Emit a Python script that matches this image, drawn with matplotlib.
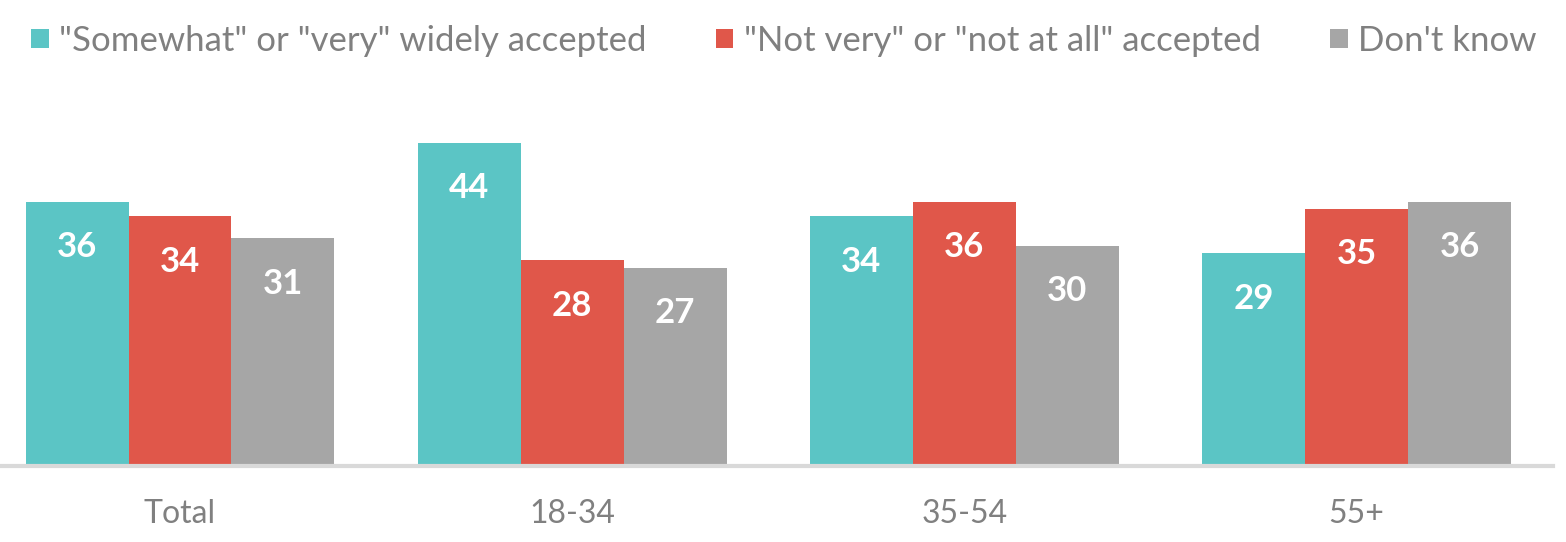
import numpy as np
import matplotlib
matplotlib.use("Agg")
import matplotlib.pyplot as plt

groups = ["Total", "18-34", "35-54", "55+"]
series = ['"Somewhat" or "very" widely accepted',
          '"Not very" or "not at all" accepted',
          "Don't know"]
accepted = [36, 44, 34, 29]
not_accepted = [34, 28, 36, 35]
dont_know = [31, 27, 30, 36]
colors = ["#5BC5C5", "#E0574A", "#A6A6A6"]

plt.rcParams["font.family"] = ["Lato", "DejaVu Sans"]

fig = plt.figure(figsize=(15.66, 5.42), dpi=100)
ax = fig.add_axes([0.0, 0.14, 1553 / 1566, 0.678])

x = np.arange(len(groups))
w = 0.2625
for i, (vals, c) in enumerate(zip([accepted, not_accepted, dont_know], colors)):
    pos = x + (i - 1) * w
    bars = ax.bar(pos, vals, width=w, color=c, label=series[i])
    for b, v in zip(bars, vals):
        ax.text(b.get_x() + b.get_width() / 2, v - 6.2, str(v), ha="center",
                va="center", color="white", fontsize=25, fontweight="bold")

ax.set_xlim(-0.459, 3.501)
ax.set_ylim(0, 50)
ax.set_xticks(x)
ax.set_xticklabels(groups, fontsize=23, color="#808080")
ax.tick_params(axis="x", length=0, pad=24)
ax.set_yticks([])
for s in ["top", "right", "left"]:
    ax.spines[s].set_visible(False)
ax.spines["bottom"].set_color("#D9D9D9")
ax.spines["bottom"].set_linewidth(3)

fig.legend(loc="upper left", bbox_to_anchor=(0.0, 1.012), ncol=3, frameon=False,
           fontsize=25, labelcolor="#808080", handlelength=0.5, handleheight=0.5,
           handletextpad=0.3, columnspacing=2.0)

fig.savefig("out.png", dpi=100)
